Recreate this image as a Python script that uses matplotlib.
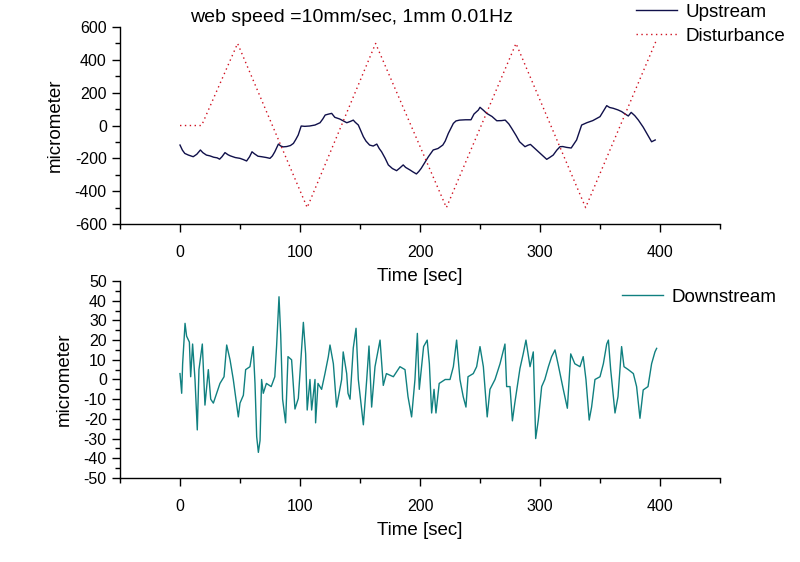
import matplotlib
matplotlib.use("Agg")
import matplotlib.pyplot as plt
from matplotlib.ticker import MultipleLocator, FixedLocator

plt.rcParams['font.family'] = ['Liberation Sans', 'DejaVu Sans']
plt.rcParams['axes.unicode_minus'] = False

# ---- data ----
dist_t = [0, 18, 48, 106, 163, 222, 280, 338, 397]
dist_v = [0, 0, 500, -500, 500, -500, 500, -500, 520]

up_t = [0, 2, 4, 7, 11, 14, 17, 19, 22, 25, 28, 31, 33, 35, 37.5, 40, 42, 46, 50, 53, 55.5,
        58, 60, 62, 65, 68, 72, 75, 77, 79, 82, 84, 86, 89, 92, 94.5, 96.5, 98.5, 101,
        104, 108, 112.5, 116.7, 119, 121, 124, 126.4, 129, 133, 139, 142, 144.4, 146,
        148.6, 152.8, 155, 158, 161, 164, 166, 168, 171, 173.6, 177, 180.5, 183, 186,
        188, 191.7, 194, 197, 199, 201, 204, 207, 211, 215, 219, 221, 223.6, 227.8,
        230, 233, 238, 242.5, 245, 248.6, 250, 253, 255.6, 260, 264, 268, 271, 274,
        276.4, 280, 283, 287.5, 290, 292, 295, 297, 301, 305.6, 308, 311, 314, 316.7,
        319, 322, 326, 330.5, 334.7, 339, 344, 350, 353, 355.6, 358, 361, 365, 368,
        371, 373.6, 376, 379, 382, 386, 389, 393, 396]
up_v = [-119, -150, -170, -180, -190, -175, -149, -165, -180, -185, -193, -197, -205,
        -190, -165, -178, -185, -195, -200, -208, -216, -190, -160, -172, -187, -190,
        -195, -200, -185, -160, -113, -125, -130, -128, -122, -109, -85, -58, -3, -5,
        -3, 3, 17, 40, 64, 70, 74, 50, 40, 17, 25, 33, 20, 3, -68, -95, -119, -125,
        -113, -140, -160, -200, -240, -262, -275, -260, -240, -255, -271, -282, -295,
        -280, -261, -225, -190, -149, -140, -119, -95, -48, 13, 28, 33, 35, 35, 70, 94,
        111, 92, 74, 55, 29, 30, 33, 10, -17, -60, -99, -129, -120, -115, -135, -149,
        -175, -206, -195, -180, -150, -129, -128, -133, -137, -88, 3, 17, 30, 54, 90,
        121, 110, 105, 95, 85, 70, 58, 80, 60, 33, -10, -48, -99, -88]

down_t = [0, 1.4, 2.2, 4.2, 5.5, 7.8, 8.9, 10.5, 12.5, 14.4, 15.8, 18.6, 20.8, 23.6,
          25.6, 27.8, 33.3, 36.7, 38.9, 41.7, 44.4, 48.6, 50, 52.8, 54.7, 58.3, 61,
          62.5, 63.9, 65.3, 66.7, 68, 69.4, 72, 76, 79, 80.5, 82.5, 83.9, 85.5, 88, 90,
          93, 95.8, 98.6, 101.4, 102.8, 104.7, 106, 108.3, 109.7, 112.5, 113, 115, 118,
          120.8, 123.6, 125, 127.8, 130.5, 134.7, 136, 138.9, 140, 141.7, 144.4, 146.7,
          148.6, 152.8, 155.6, 157.5, 159.7, 162.5, 166.7, 169.4, 172, 177.8, 183.3,
          187.5, 190, 193, 195.8, 197.8, 199.4, 203, 206, 207.8, 209.7, 211.7, 213.3,
          216, 221, 225, 227.8, 230.5, 233.3, 236, 238.3, 240, 244.4, 247.2, 250, 252.8,
          256, 258.3, 262.5, 266.7, 270.8, 272.2, 275, 277, 279, 283.3, 286, 288.3,
          291.7, 294.4, 296.4, 298.6, 301.4, 304, 307, 309.7, 312.5, 315, 319.4, 322.8,
          325.6, 329, 333.3, 336, 338.3, 341, 343, 345.8, 350, 352.8, 355.6, 357, 358.9,
          362.5, 365, 368, 370, 373.6, 377.8, 380.5, 383.3, 386, 390, 393, 395.8, 397.2]
down_v = [3, -7, 8, 28.5, 22, 19, 1.4, 18, 0, -25.6, 5, 18, -13, 5, -10, -12, -2, 1.4,
          17.5, 10, 0, -19, -12, -8, 5, 6.5, 16.7, -2, -29, -37, -31, 0, -7, -2, -3.6,
          1.4, 17, 42, 23, -10, -22, 11.6, 10, -15, -9.6, 16.7, 29, 13, -15.5, 0, -15.5,
          0, -22, -2, -5, 3, 11.6, 17.5, 8, -14, 0, 14, 3, -7, -10, 16, 26, 0, -23, 0,
          17, -14, 6.5, 20, -3, 3, 1.4, 6.5, 5, -8.7, -19, 0, 23.4, -5, 16.7, 20, 8,
          -17, -5, -17, -2, 0, 0, 6.5, 20, 0, -8.7, -14, 1.4, 3, 6.5, 16.7, 6.5, -19, -5,
          0, 8, 18, -3.6, -3.6, -21, -12, 5.6, 13, 20, 6.5, 14, -30, -20.6, -3.6, 0, 6.5,
          11.6, 15, 8, -5, -14.6, 13, 8, 6.5, 11.6, 0, -20.6, -14, 0, 1.4, 8, 18, 20, 5,
          -17, -8.7, 16.7, 6.5, 5, 3, -3.6, -19.7, -5.3, -3.6, 8, 14, 15.8]

x_major = [0, 100, 200, 300, 400]
x_minor = [-50, 50, 150, 250, 350, 450]
top_yticks = [-600, -400, -200, 0, 200, 400, 600]
bot_yticks = [-50, -40, -30, -20, -10, 0, 10, 20, 30, 40, 50]

fig = plt.figure(figsize=(8, 5.62), dpi=100)
ax1 = fig.add_axes([0.15, 0.6014, 0.75, 0.3505])
ax2 = fig.add_axes([0.15, 0.1495, 0.75, 0.3505])
ax2.patch.set_visible(False)
ax1.patch.set_visible(False)

ax1.plot(up_t, up_v, color='#10104a', lw=1.0, label='Upstream')
ax1.plot(dist_t, dist_v, color='#d01020', lw=1.0, linestyle=(0, (1, 2.5)), label='Disturbance')
ax2.plot(down_t, down_v, color='#108080', lw=1.0, label='Downstream')

for ax, yt, lim, minor in [(ax1, top_yticks, (-600, 600), 100), (ax2, bot_yticks, (-50, 50), 5)]:
    ax.set_xlim(-50, 450)
    ax.set_ylim(*lim)
    ax.xaxis.set_major_locator(FixedLocator(x_major))
    ax.xaxis.set_minor_locator(FixedLocator(x_minor))
    ax.yaxis.set_major_locator(FixedLocator(yt))
    ax.yaxis.set_minor_locator(MultipleLocator(minor))
    for s in ['top', 'right']:
        ax.spines[s].set_visible(False)
    for s in ['left', 'bottom']:
        ax.spines[s].set_linewidth(1.0)
    ax.tick_params(which='major', direction='out', length=6, width=1.0, labelsize=11.5)
    ax.tick_params(which='minor', direction='out', length=3.5, width=1.0)
    ax.tick_params(axis='x', which='major', pad=9)
    ax.set_xlabel('Time [sec]', fontsize=13.5, labelpad=6)
    ax.set_ylabel('micrometer', fontsize=13.5, labelpad=8)

leg1 = ax1.legend(loc='upper left', bbox_to_anchor=(634 / 800, 1 - 2 / 562), bbox_transform=fig.transFigure,
                  frameon=False, fontsize=13.5, handlelength=2.2, handletextpad=0.45,
                  borderaxespad=0, borderpad=0.1, labelspacing=0.35)
leg2 = ax2.legend(loc='upper left', bbox_to_anchor=(620 / 800, 1 - 287 / 562), bbox_transform=fig.transFigure,
                  frameon=False, fontsize=13.5, handlelength=2.2, handletextpad=0.45,
                  borderaxespad=0, borderpad=0.1)

fig.text(190 / 800, 1 - 18 / 562, 'web speed =10mm/sec, 1mm 0.01Hz', fontsize=14, va='center', ha='left')

fig.savefig('out.png', dpi=100, facecolor='white')
